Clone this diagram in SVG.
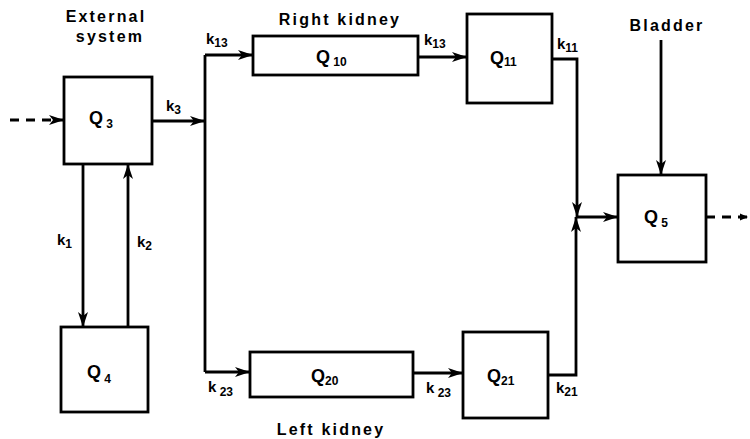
<svg xmlns="http://www.w3.org/2000/svg" width="750" height="439" viewBox="0 0 750 439">
<defs>
<marker id="ah" markerUnits="userSpaceOnUse" markerWidth="16" markerHeight="12" refX="15" refY="6" orient="auto">
<path d="M0,1 L15,6 L0,11 L4,6 Z" fill="#000"/>
</marker>
<marker id="ahs" markerUnits="userSpaceOnUse" markerWidth="9" markerHeight="9" refX="8" refY="4.5" orient="auto">
<path d="M0,1 L8,4.5 L0,8 Z" fill="#000"/>
</marker>
</defs>
<style>
.box{fill:#fff;stroke:#000;stroke-width:2.8}
.ln{fill:none;stroke:#000;stroke-width:2.8}
.dash{fill:none;stroke:#000;stroke-width:2.8;stroke-dasharray:9,7}
.t{font-family:"Liberation Sans",Arial,sans-serif;font-weight:bold;fill:#000}
.title{font-size:16px;letter-spacing:2.2px}
.q{font-size:18px}
.k{font-size:15px}
.sub{font-size:12px}
</style>
<rect width="750" height="439" fill="#fff"/>

<g id="connectors">
<path class="dash" d="M10,120 H64" marker-end="url(#ah)"/>
<path class="ln" d="M152,121 H205" marker-end="url(#ah)"/>
<path class="ln" d="M205,55 V372"/>
<path class="ln" d="M205,55 H253" marker-end="url(#ah)"/>
<path class="ln" d="M205,372 H250" marker-end="url(#ah)"/>
<path class="ln" d="M83,164 V327" marker-end="url(#ah)"/>
<path class="ln" d="M128,327 V164" marker-end="url(#ah)"/>
<path class="ln" d="M418,57 H467" marker-end="url(#ah)"/>
<path class="ln" d="M413,373 H463" marker-end="url(#ah)"/>
<path class="ln" d="M552,59 H577 V217" marker-end="url(#ah)"/>
<path class="ln" d="M548,375 H576 V217" marker-end="url(#ah)"/>
<path class="ln" d="M577,217 H618" marker-end="url(#ah)"/>
<path class="ln" d="M661,40 V175" marker-end="url(#ah)"/>
<path class="dash" d="M706,217 H748" stroke-dasharray="7,5" marker-end="url(#ahs)"/>
</g>

<g id="labels">
<text class="t title" x="106" y="22" text-anchor="middle">External</text>
<text class="t title" x="110" y="42" text-anchor="middle">system</text>
<text class="t title" x="340" y="25" text-anchor="middle">Right kidney</text>
<text class="t title" x="667" y="31" text-anchor="middle">Bladder</text>
<text class="t title" x="331" y="435" text-anchor="middle">Left kidney</text>
<text class="t k" x="166" y="111">k<tspan class="sub" dy="3">3</tspan></text>
<text class="t k" x="206" y="44">k<tspan class="sub" dy="3">13</tspan></text>
<text class="t k" x="424" y="45">k<tspan class="sub" dy="3">13</tspan></text>
<text class="t k" x="557" y="49">k<tspan class="sub" dy="3">11</tspan></text>
<text class="t k" x="57" y="245">k<tspan class="sub" dy="3">1</tspan></text>
<text class="t k" x="137" y="247">k<tspan class="sub" dy="3">2</tspan></text>
<text class="t k" x="208" y="392">k<tspan class="sub" dy="4"> 23</tspan></text>
<text class="t k" x="426" y="393">k<tspan class="sub" dy="4"> 23</tspan></text>
<text class="t k" x="556" y="393">k<tspan class="sub" dy="3">21</tspan></text>
</g>

<g id="Q3">
<rect class="box" x="64" y="77" width="88" height="87"/>
<text class="t q" x="89" y="124">Q<tspan class="sub" dy="4"> 3</tspan></text>
</g>
<g id="Q4">
<rect class="box" x="61" y="327" width="87" height="85"/>
<text class="t q" x="87" y="378">Q<tspan class="sub" dy="5"> 4</tspan></text>
</g>
<g id="Q10">
<rect class="box" x="253" y="36" width="165" height="39"/>
<text class="t q" x="316" y="63">Q<tspan class="sub" dy="3"> 10</tspan></text>
</g>
<g id="Q11">
<rect class="box" x="467" y="14" width="85" height="89"/>
<text class="t q" x="490" y="64">Q<tspan class="sub" dy="2">11</tspan></text>
</g>
<g id="Q20">
<rect class="box" x="250" y="352" width="163" height="45"/>
<text class="t q" x="311" y="382">Q<tspan class="sub" dy="3">20</tspan></text>
</g>
<g id="Q21">
<rect class="box" x="463" y="332" width="85" height="86"/>
<text class="t q" x="487" y="382">Q<tspan class="sub" dy="3">21</tspan></text>
</g>
<g id="Q5">
<rect class="box" x="618" y="175" width="88" height="87"/>
<text class="t q" x="644" y="223">Q<tspan class="sub" dy="4"> 5</tspan></text>
</g>
</svg>
